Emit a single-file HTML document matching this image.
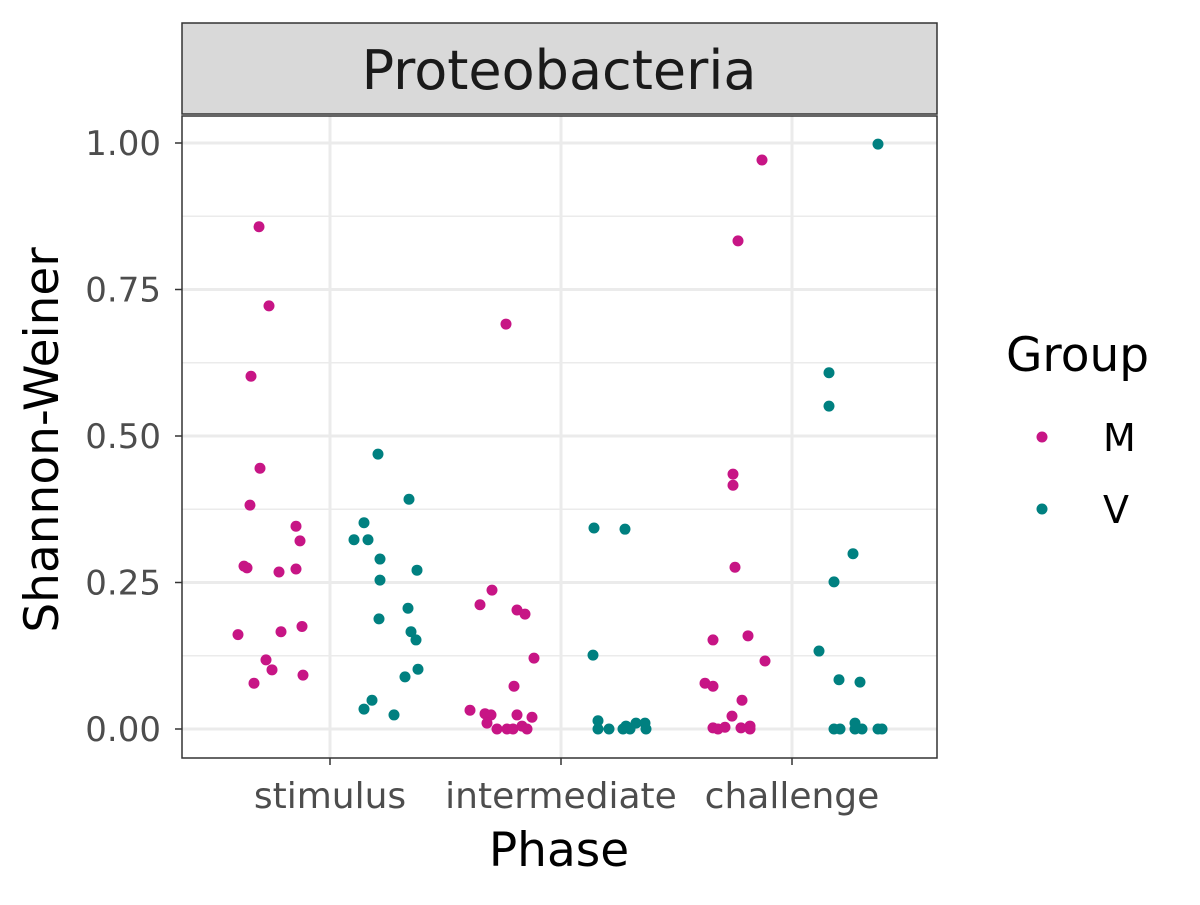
<!DOCTYPE html>
<html><head><meta charset="utf-8"><style>body{margin:0;background:#fff}svg text{font-family:"DejaVu Sans","Liberation Sans",sans-serif}</style></head>
<body>
<svg id="chart" width="1200" height="900" xmlns="http://www.w3.org/2000/svg">
<rect width="1200" height="900" fill="#fff"/>
<g id="grid"></g>
<g id="points"></g>
<rect x="182" y="116" width="755" height="642" fill="none" stroke="#333" stroke-width="1.5"/>
<rect x="182" y="23" width="755" height="91" fill="#d9d9d9" stroke="#333" stroke-width="1.5"/>
<text x="559" y="89" text-anchor="middle" font-size="54" fill="#1a1a1a">Proteobacteria</text>
<g id="axes"></g>
<text x="559" y="866" text-anchor="middle" font-size="47" fill="#000">Phase</text>
<text transform="translate(58,440) rotate(-90)" text-anchor="middle" font-size="47" fill="#000">Shannon-Weiner</text>
<g>
<text x="1006" y="371" font-size="47" fill="#000">Group</text>
<circle cx="1042" cy="437" r="5.5" fill="#C71585"/>
<text x="1103" y="451" font-size="38" fill="#000">M</text>
<circle cx="1042" cy="509" r="5.5" fill="#008080"/>
<text x="1103" y="523" font-size="38" fill="#000">V</text>
</g>
</svg>
<script>
const categories = ["stimulus","intermediate","challenge"];
const yTicks = [0,0.25,0.5,0.75,1];
const yTickLabels = ["0.00","0.25","0.50","0.75","1.00"];
// jitter offsets (category units) and values
const mStimJ = [-71,-61,-79,-70,-80,-34,-30,-86,-83,-51,-34,-92,-49,-28,-64,-58,-76,-27].map(v=>v/231);
const mStimY = [0.857,0.722,0.602,0.445,0.382,0.346,0.321,0.278,0.275,0.268,0.273,0.161,0.166,0.175,0.118,0.101,0.078,0.092];
const vStimJ = [48,79,34,24,38,50,87,50,78,49,81,86,88,75,42,34,64].map(v=>v/231);
const vStimY = [0.469,0.392,0.352,0.323,0.323,0.290,0.271,0.254,0.206,0.188,0.166,0.152,0.102,0.089,0.049,0.034,0.024];
const mIntJ = [-55,-69,-81,-44,-36,-27,-47,-91,-76,-70,-44,-29,-74,-64,-54,-48,-39,-34].map(v=>v/231);
const mIntY = [0.691,0.237,0.212,0.203,0.196,0.121,0.073,0.032,0.026,0.024,0.024,0.020,0.010,0,0,0,0.005,0];
const vIntJ = [33,64,32,37,37,48,62,69,75,84,85,65].map(v=>v/231);
const vIntY = [0.343,0.341,0.126,0.014,0,0,0,0,0.010,0.010,0,0.005];
const mChaJ = [-30,-54,-59,-59,-57,-44,-79,-27,-87,-79,-50,-60,-79,-74,-67,-51,-42,-42].map(v=>v/231);
const mChaY = [0.971,0.833,0.435,0.416,0.276,0.159,0.152,0.116,0.078,0.073,0.049,0.022,0.002,0,0.003,0.002,0.005,0];
const vChaJ = [86,37,37,42,61,27,47,68,42,48,63,63,70,86,90].map(v=>v/231);
const vChaY = [0.998,0.608,0.551,0.251,0.299,0.133,0.084,0.080,0,0,0.010,0,0,0,0];

const NS="http://www.w3.org/2000/svg";
const xScale = c => 330 + c*231;
const yScale = v => 729 - v*586;
function mk(tag, attrs, parent){const e=document.createElementNS(NS,tag);for(const k in attrs)e.setAttribute(k,attrs[k]);parent.appendChild(e);return e;}
const grid=document.getElementById('grid'), axes=document.getElementById('axes'), pts=document.getElementById('points');
mk('rect',{x:182,y:116,width:755,height:642,fill:'#fff'},grid);
for(let i=0;i<yTicks.length-1;i++){const v=(yTicks[i]+yTicks[i+1])/2;
 const l=mk('line',{x1:182,x2:937,y1:yScale(v),y2:yScale(v),stroke:'#ebebeb','stroke-width':1.4},grid);
 
 }
yTicks.forEach((v,i)=>{
 const l=mk('line',{x1:182,x2:937,y1:yScale(v),y2:yScale(v),stroke:'#ebebeb','stroke-width':3},grid);
 
 
 const t=mk('line',{x1:175,x2:182,y1:yScale(v),y2:yScale(v),stroke:'#333','stroke-width':1.5},axes);
 
 
 const tx=mk('text',{x:161,y:yScale(v)+12,'text-anchor':'end','font-size':34,fill:'#4d4d4d'},axes);
 tx.textContent=yTickLabels[i];
 
 
});
categories.forEach((c,i)=>{
 const l=mk('line',{x1:xScale(i),x2:xScale(i),y1:116,y2:758,stroke:'#ebebeb','stroke-width':3},grid);
 
 
 const t=mk('line',{x1:xScale(i),x2:xScale(i),y1:758,y2:765,stroke:'#333','stroke-width':1.5},axes);
 
 
 const tx=mk('text',{x:xScale(i),y:808,'text-anchor':'middle','font-size':36,fill:'#4d4d4d'},axes);
 tx.textContent=c;
 
 
});
const series=[[0,mStimJ,mStimY,'#C71585','m'],[0,vStimJ,vStimY,'#008080','v'],[1,mIntJ,mIntY,'#C71585','m'],[1,vIntJ,vIntY,'#008080','v'],[2,mChaJ,mChaY,'#C71585','m'],[2,vChaJ,vChaY,'#008080','v']];
series.forEach(([ci,J,Y,col,g])=>{Y.forEach((v,k)=>{
 const p=mk('circle',{cx:xScale(ci+J[k]),cy:yScale(v),r:5.5,fill:col},pts);
 
 
});});
</script>
</body></html>
